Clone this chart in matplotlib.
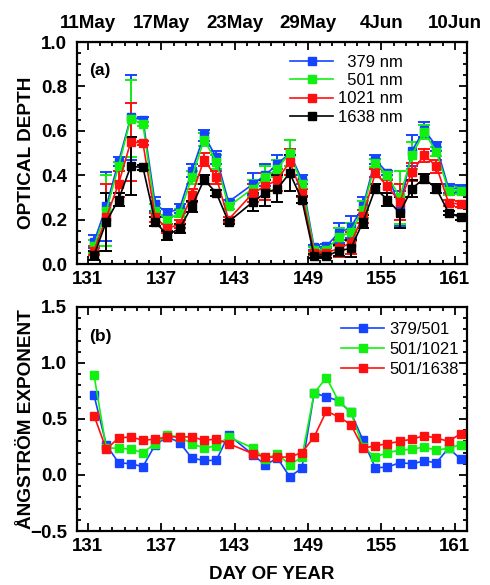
import numpy as np
import matplotlib
matplotlib.use("Agg")
import matplotlib.pyplot as plt
from matplotlib.ticker import MultipleLocator

plt.rcParams['font.family'] = ['Liberation Sans', 'DejaVu Sans']

# dias (mediodia) con medida
days = [131.5, 132.5, 133.5, 134.5, 135.5, 136.5, 137.5, 138.5, 139.5, 140.5,
        141.5, 142.5, 144.5, 145.5, 146.5, 147.5, 148.5, 149.5, 150.5, 151.5,
        152.5, 153.5, 154.5, 155.5, 156.5, 157.5, 158.5, 159.5, 160.5, 161.5]

# espesor optico
aod_379 = [0.10, 0.26, 0.46, 0.66, 0.65, 0.27, 0.23, 0.25, 0.42, 0.58,
           0.48, 0.28, 0.36, 0.40, 0.45, 0.50, 0.38, 0.075, 0.08, 0.14,
           0.165, 0.26, 0.47, 0.41, 0.25, 0.51, 0.605, 0.53, 0.34, 0.34]
err_379 = [0.03, 0.155, 0.02, 0.19, 0.01, 0.03, 0.02, 0.02, 0.03, 0.025,
           0.03, 0.01, 0.05, 0.05, 0.04, 0.06, 0.02, 0.01, 0.01, 0.045,
           0.05, 0.04, 0.02, 0.01, 0.08, 0.07, 0.035, 0.02, 0.02, 0.015]
aod_501 = [0.08, 0.24, 0.44, 0.655, 0.63, 0.24, 0.20, 0.23, 0.39, 0.56,
           0.46, 0.26, 0.34, 0.39, 0.43, 0.50, 0.36, 0.065, 0.065, 0.12,
           0.145, 0.245, 0.455, 0.40, 0.30, 0.49, 0.595, 0.505, 0.33, 0.33]
err_501 = [0.03, 0.16, 0.02, 0.175, 0.01, 0.03, 0.02, 0.02, 0.03, 0.03,
           0.03, 0.01, 0.04, 0.05, 0.04, 0.06, 0.02, 0.01, 0.01, 0.04,
           0.04, 0.04, 0.02, 0.015, 0.12, 0.06, 0.03, 0.02, 0.02, 0.015]
aod_1021 = [0.06, 0.21, 0.36, 0.55, 0.545, 0.21, 0.16, 0.18, 0.31, 0.47,
            0.39, 0.20, 0.32, 0.35, 0.38, 0.46, 0.32, 0.05, 0.05, 0.07,
            0.095, 0.215, 0.41, 0.35, 0.28, 0.415, 0.49, 0.44, 0.275, 0.27]
err_1021 = [0.02, 0.15, 0.06, 0.175, 0.01, 0.02, 0.02, 0.02, 0.03, 0.03,
            0.03, 0.01, 0.04, 0.06, 0.05, 0.06, 0.02, 0.01, 0.01, 0.04,
            0.05, 0.03, 0.02, 0.03, 0.08, 0.04, 0.03, 0.03, 0.015, 0.015]
aod_1638 = [0.04, 0.19, 0.29, 0.44, 0.435, 0.19, 0.13, 0.16, 0.26, 0.38,
            0.32, 0.19, 0.28, 0.32, 0.34, 0.41, 0.29, 0.035, 0.035, 0.06,
            0.07, 0.19, 0.34, 0.29, 0.23, 0.34, 0.385, 0.34, 0.23, 0.21]
err_1638 = [0.02, 0.13, 0.03, 0.13, 0.01, 0.02, 0.02, 0.02, 0.025, 0.02,
            0.015, 0.01, 0.04, 0.06, 0.06, 0.08, 0.015, 0.01, 0.01, 0.025,
            0.04, 0.03, 0.02, 0.03, 0.07, 0.04, 0.02, 0.02, 0.01, 0.01]

# exponente de Angstrom
alpha_379_501 = [0.71, 0.27, 0.11, 0.10, 0.075, 0.27, 0.34, 0.29, 0.15, 0.13,
                 0.13, 0.36, 0.18, 0.09, 0.15, -0.015, 0.06, 0.73, 0.70, 0.66,
                 0.56, 0.31, 0.065, 0.07, 0.11, 0.10, 0.125, 0.11, 0.24, 0.14]
alpha_501_1021 = [0.89, 0.24, 0.24, 0.23, 0.20, 0.28, 0.355, 0.34, 0.28, 0.24,
                  0.26, 0.34, 0.24, 0.14, 0.19, 0.09, 0.16, 0.73, 0.87, 0.66,
                  0.56, 0.25, 0.16, 0.20, 0.22, 0.23, 0.25, 0.22, 0.24, 0.27]
alpha_501_1638 = [0.53, 0.23, 0.33, 0.34, 0.31, 0.32, 0.34, 0.34, 0.34, 0.31,
                  0.32, 0.28, 0.19, 0.16, 0.16, 0.16, 0.20, 0.34, 0.57, 0.52,
                  0.45, 0.24, 0.26, 0.28, 0.30, 0.32, 0.35, 0.33, 0.30, 0.37]

doy_ticks = [131, 137, 143, 149, 155, 161]
date_labels = ["11May", "17May", "23May", "29May", "4Jun", "10Jun"]

C_BLUE, C_GREEN, C_RED, C_BLACK = "#1444ff", "#12f012", "#ff1010", "black"

fig = plt.figure(figsize=(4.9, 5.85), dpi=100)
ax1 = fig.add_axes([0.157, 0.5487, 0.796, 0.3795])
ax2 = fig.add_axes([0.157, 0.0923, 0.796, 0.383])


def style_axis(ax):
    ax.set_xlim(130.1, 162)
    ax.set_xticks(doy_ticks)
    ax.xaxis.set_minor_locator(MultipleLocator(1))
    ax.tick_params(which="both", direction="in", top=True, right=True,
                   width=1.3, labelsize=13.5)
    ax.tick_params(which="major", length=6)
    ax.tick_params(which="minor", length=3)
    ax.tick_params(axis="y", pad=7)
    ax.tick_params(axis="x", pad=5)
    for s in ax.spines.values():
        s.set_linewidth(1.6)
    for lab in ax.get_xticklabels() + ax.get_yticklabels():
        lab.set_fontweight("bold")


# (a) espesor optico
for y, e, c, lab in [(aod_379, err_379, C_BLUE, "  379 nm"),
                     (aod_501, err_501, C_GREEN, "  501 nm"),
                     (aod_1021, err_1021, C_RED, "1021 nm"),
                     (aod_1638, err_1638, C_BLACK, "1638 nm")]:
    ax1.errorbar(days, y, yerr=e, color=c, marker="s", ms=6, lw=1.2,
                 elinewidth=1.4, capsize=4, capthick=1.4, label=lab)
ax1.set_ylim(0, 1.0)
ax1.yaxis.set_major_locator(MultipleLocator(0.2))
ax1.yaxis.set_minor_locator(MultipleLocator(0.05))
style_axis(ax1)
ax1.set_ylabel("OPTICAL DEPTH", fontsize=13.7, fontweight="bold")
ax1.yaxis.set_label_coords(-0.108, 0.5)
ax1.text(0.03, 0.85, "(a)", transform=ax1.transAxes, fontsize=12.5,
         fontweight="bold")
h, l = ax1.get_legend_handles_labels()
ax1.legend([hh[0] for hh in h], l, loc="upper right", frameon=False,
           fontsize=12, handlelength=2.6, handletextpad=0.3,
           borderaxespad=0.2, labelspacing=0.2,
           bbox_to_anchor=(0.862, 0.988))

sec = ax1.secondary_xaxis("top")
sec.set_xticks(doy_ticks)
sec.set_xticklabels(date_labels, fontsize=13.5, fontweight="bold")
sec.tick_params(direction="in", length=0, pad=7)

# (b) exponente de Angstrom
for y, c, lab in [(alpha_379_501, C_BLUE, "379/501"),
                  (alpha_501_1021, C_GREEN, "501/1021"),
                  (alpha_501_1638, C_RED, "501/1638")]:
    ax2.plot(days, y, color=c, marker="s", ms=6.2, lw=1.2, label=lab)
ax2.set_ylim(-0.5, 1.5)
ax2.yaxis.set_major_locator(MultipleLocator(0.5))
ax2.yaxis.set_minor_locator(MultipleLocator(0.1))
style_axis(ax2)
ax2.set_ylabel("ÅNGSTRÖM EXPONENT", fontsize=13.7, fontweight="bold")
ax2.yaxis.set_label_coords(-0.108, 0.5)
ax2.set_xlabel("DAY OF YEAR", fontsize=13.5, fontweight="bold")
ax2.xaxis.set_label_coords(0.5, -0.158)
ax2.text(0.03, 0.85, "(b)", transform=ax2.transAxes, fontsize=12.5,
         fontweight="bold")
ax2.legend(loc="upper right", frameon=False, fontsize=12, handlelength=2.6,
           handletextpad=0.3, borderaxespad=0.2, labelspacing=0.29,
           bbox_to_anchor=(1.005, 0.978))

fig.savefig("out.png", dpi=100)
